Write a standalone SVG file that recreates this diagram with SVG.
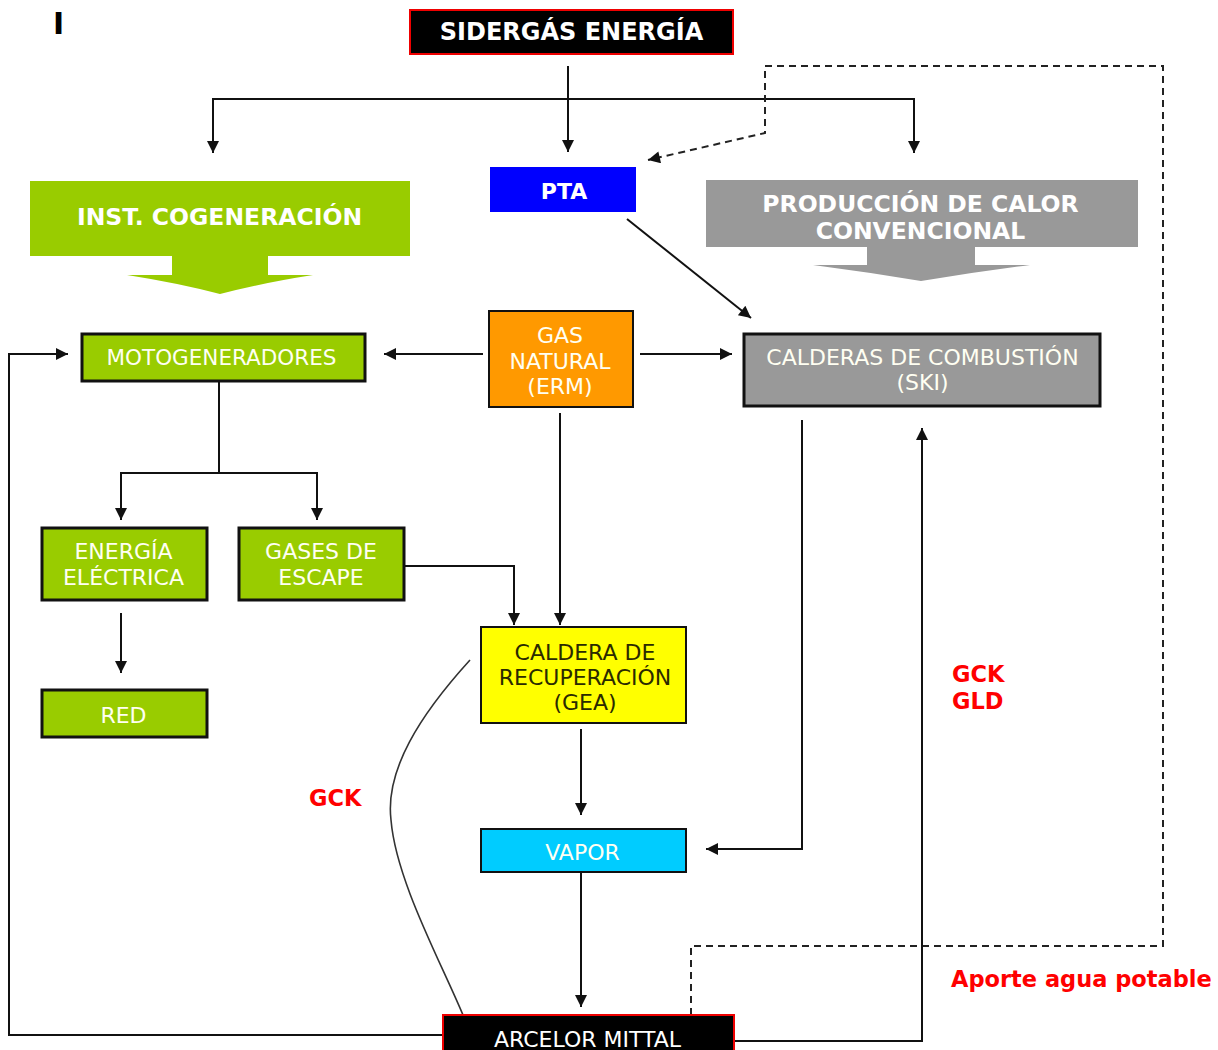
<svg xmlns="http://www.w3.org/2000/svg" width="1218" height="1050" viewBox="0 0 1218 1050">
<style>
text{font-family:"DejaVu Sans",Verdana,sans-serif;text-anchor:middle}
.h{font-weight:bold;font-size:23.5px;fill:#fff}
.t{font-size:22px;fill:#fffff2}
.d{font-size:22px;fill:#2a2a00}
.r{font-weight:bold;font-size:22.5px;fill:#ff0000;text-anchor:start}
.ln{fill:none;stroke:#111;stroke-width:2}
.ds{fill:none;stroke:#222;stroke-width:2;stroke-dasharray:7,5}
.bx{stroke:#111;stroke-width:3}
.bt{stroke:#111;stroke-width:2}
</style>
<defs>
<marker id="a" viewBox="0 0 10 10" refX="10" refY="5" markerUnits="userSpaceOnUse" markerWidth="15" markerHeight="12" orient="auto">
<path d="M0,0 L10,5 L0,10 z" fill="#111"/>
</marker>
</defs>
<text x="58.5" y="34" style="font-size:30px;font-weight:bold;fill:#000">I</text>
<g id="connectors">
<path class="ln" d="M568,66 V152" marker-end="url(#a)"/>
<path class="ln" d="M568,99 H213 V153" marker-end="url(#a)"/>
<path class="ln" d="M568,99 H914 V153" marker-end="url(#a)"/>
<path class="ds" d="M691,1015 V946 H1163 V66 H765 V133 L648,160" marker-end="url(#a)"/>
<path class="ln" d="M627,219 L751,318" marker-end="url(#a)"/>
<path class="ln" d="M483,354 H384" marker-end="url(#a)"/>
<path class="ln" d="M640,354 H732" marker-end="url(#a)"/>
<path class="ln" d="M219,381 V473"/>
<path class="ln" d="M219,473 H121 V520" marker-end="url(#a)"/>
<path class="ln" d="M219,473 H317 V520" marker-end="url(#a)"/>
<path class="ln" d="M121,613 V673" marker-end="url(#a)"/>
<path class="ln" d="M404,566 H514 V625" marker-end="url(#a)"/>
<path class="ln" d="M560,413 V625" marker-end="url(#a)"/>
<path class="ln" d="M581,729 V815" marker-end="url(#a)"/>
<path class="ln" d="M581,872 V1007" marker-end="url(#a)"/>
<path class="ln" d="M802,420 V849 H706" marker-end="url(#a)"/>
<path class="ln" d="M734,1041 H922 V428" marker-end="url(#a)"/>
<path class="ln" d="M443,1035 H9 V354 H68" marker-end="url(#a)"/>
<path fill="none" stroke="#333" stroke-width="1.6" d="M470,660 C420,715 385,770 391,820 C396,880 440,960 463,1015"/>
</g>
<g id="sidergas">
<rect x="410" y="10" width="323" height="44" fill="#000" stroke="#e00" stroke-width="2"/>
<text class="h" x="571.5" y="39.5" style="font-size:24px">SIDERGÁS ENERGÍA</text>
</g>
<g id="cogeneracion">
<path d="M30,181 H410 V256 H268 V275 H313 Q262,283 220,294 Q178,283 127,275 H172 V256 H30 Z" fill="#99cc00"/>
<text class="h" x="219.5" y="225">INST. COGENERACIÓN</text>
</g>
<g id="pta">
<rect x="490" y="167" width="146" height="45" fill="#0000ff"/>
<text class="h" x="564" y="199" style="font-size:22px">PTA</text>
</g>
<g id="produccion">
<path d="M706,180 H1138 V247 H975 V265 H1030 Q975,272 921,281 Q867,272 813,265 H867 V247 H706 Z" fill="#999999"/>
<text class="h" x="920.5" y="211.5">PRODUCCIÓN DE CALOR</text>
<text class="h" x="920.5" y="239">CONVENCIONAL</text>
</g>
<g id="motogeneradores">
<rect class="bx" x="82" y="334" width="283" height="47" fill="#99cc00"/>
<text class="t" x="221.5" y="365" style="font-size:21.5px">MOTOGENERADORES</text>
</g>
<g id="gasnatural">
<rect class="bt" x="489" y="311" width="144" height="96" fill="#ff9900"/>
<text class="t" x="560" y="343">GAS</text>
<text class="t" x="560" y="369">NATURAL</text>
<text class="t" x="560" y="394">(ERM)</text>
</g>
<g id="calderas">
<rect class="bx" x="744" y="334" width="356" height="72" fill="#999999"/>
<text class="t" x="922.5" y="365">CALDERAS DE COMBUSTIÓN</text>
<text class="t" x="922.5" y="390">(SKI)</text>
</g>
<g id="energia">
<rect class="bx" x="42" y="528" width="165" height="72" fill="#99cc00"/>
<text class="t" x="123.5" y="559">ENERGÍA</text>
<text class="t" x="123.5" y="585">ELÉCTRICA</text>
</g>
<g id="gases">
<rect class="bx" x="239" y="528" width="165" height="72" fill="#99cc00"/>
<text class="t" x="321" y="559">GASES DE</text>
<text class="t" x="321" y="585">ESCAPE</text>
</g>
<g id="red">
<rect class="bx" x="42" y="690" width="165" height="47" fill="#99cc00"/>
<text class="t" x="123.5" y="722.5">RED</text>
</g>
<g id="caldera-recuperacion">
<rect class="bt" x="481" y="627" width="205" height="96" fill="#ffff00"/>
<text class="d" x="585" y="660">CALDERA DE</text>
<text class="d" x="585" y="685">RECUPERACIÓN</text>
<text class="d" x="585" y="710">(GEA)</text>
</g>
<g id="vapor">
<rect class="bt" x="481" y="829" width="205" height="43" fill="#00ccff"/>
<text class="t" x="582.5" y="860">VAPOR</text>
</g>
<g id="arcelor">
<rect x="443" y="1015" width="291" height="50" fill="#000" stroke="#e00" stroke-width="2"/>
<text class="t" x="587.5" y="1047" style="fill:#fff">ARCELOR MITTAL</text>
</g>
<g id="labels">
<text class="r" x="309" y="806">GCK</text>
<text class="r" x="952" y="681.5">GCK</text>
<text class="r" x="952" y="708.5">GLD</text>
<text class="r" x="951" y="987">Aporte agua potable</text>
</g>
</svg>
